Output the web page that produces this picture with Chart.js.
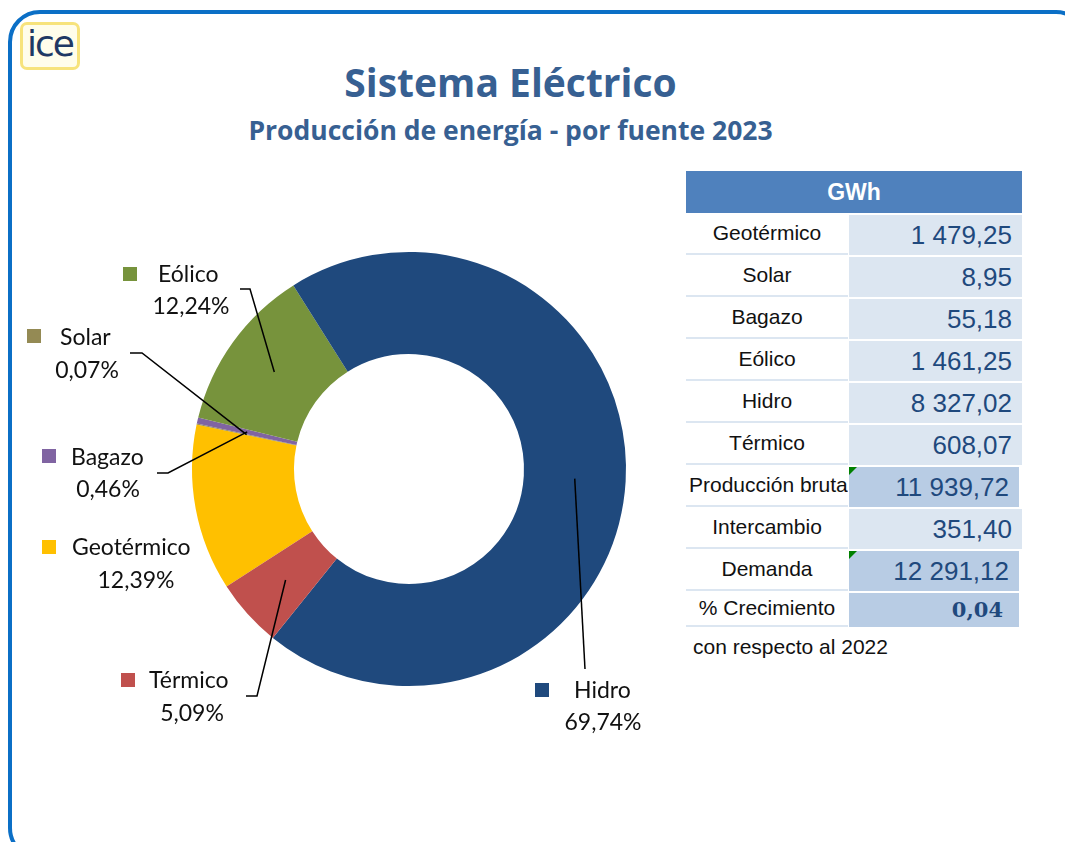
<!DOCTYPE html>
<html lang="es">
<head>
<meta charset="utf-8">
<title>Sistema Eléctrico</title>
<script src="https://cdn.jsdelivr.net/npm/chart.js@4/dist/chart.umd.min.js"></script>
<style>
  body { margin: 0; width: 1065px; height: 842px; overflow: hidden; background: #fff; position: relative; font-family: Lato, sans-serif; }
  #frame { position: absolute; left: 8px; top: 10px; width: 1080px; height: 850px; border: 4px solid #0B6FC6; border-radius: 32px; box-sizing: border-box; }
  #logo { position: absolute; left: 20px; top: 22px; width: 60px; height: 48px; box-sizing: border-box;
          background: #FFFDEB; border: 3px solid #F7E37C; border-radius: 7px;
          font: 36px/38px "DejaVu Sans", sans-serif; color: #1F3864; text-align: center; letter-spacing: -2px; }
  #title { position: absolute; left: 0; width: 1021px; top: 55px; text-align: center; font: bold 39px "Open Sans", sans-serif; color: #376092; }
  #subtitle { position: absolute; left: 0; width: 1021px; top: 112px; text-align: center; font: bold 26.5px "Open Sans", sans-serif; color: #376092; }
  #chart { position: absolute; left: 0; top: 0; }
  .cell { position: absolute; box-sizing: border-box; white-space: nowrap; overflow: hidden; }
  .hdr { background: #4F81BD; color: #fff; font: bold 23px "Liberation Sans", sans-serif; text-align: center; }
  .lbl { background: #fff; border-bottom: 2px solid #DCE6F1; color: #111; font: 21px "Liberation Sans", sans-serif; text-align: center; }
  .val { background: #DCE6F1; color: #1F497D; font: 26px "Liberation Sans", sans-serif; text-align: right; padding-right: 10px; }
  .val.hi { background: #B8CCE4; }
  .val.bold { font: bold 21px "DejaVu Serif", serif; padding-right: 16px; }
  .flag { position: absolute; left: 0; top: 0; width: 0; height: 0; border-top: 8px solid #008000; border-right: 8px solid transparent; }
  #note { position: absolute; left: 693px; top: 635px; font: 21px "Liberation Sans", sans-serif; color: #111; }
</style>
</head>
<body>
<div id="frame"></div>
<div id="logo">ice</div>
<div id="title">Sistema Eléctrico</div>
<div id="subtitle">Producción de energía - por fuente 2023</div>
<canvas id="chart" width="680" height="842"></canvas>
<div id="table"></div>
<div id="note">con respecto al 2022</div>

<script>
'use strict';

// ── Data ─────────────────────────────────────────────────────────────────────

const sources = ['Geotérmico', 'Solar', 'Bagazo', 'Eólico', 'Hidro', 'Térmico'];
const gwh     = [1479.25, 8.95, 55.18, 1461.25, 8327.02, 608.07];
const shares  = ['12,39%', '0,07%', '0,46%', '12,24%', '69,74%', '5,09%'];
const colors  = ['#FFC000', '#948A54', '#8064A2', '#77933C', '#1F497D', '#C0504D'];

const totalLabels = ['Producción bruta', 'Intercambio', 'Demanda', '% Crecimiento'];
const totalValues = [11939.72, 351.40, 12291.12, 0.04];

// label blocks, offsets from the doughnut centre
const labelSpots = [
  { sq: [-367,   71], name: [-337,   79], pct: [-273, 112], leader: null },
  { sq: [-382, -140], name: [-349, -131], pct: [-322, -98], leader: [[-279, -116], [-267, -116]] },
  { sq: [-367,  -20], name: [-338,  -11], pct: [-301,  21], leader: [[-252,    4], [-241,    4]] },
  { sq: [-286, -202], name: [-251, -194], pct: [-218, -162], leader: [[-169, -180], [-159, -180]] },
  { sq: [ 126,  214], name: [ 165,  222], pct: [ 194, 254], leader: [[ 176,  200]] },
  { sq: [-288,  204], name: [-260,  212], pct: [-217, 245], leader: [[-163,  227], [-152,  227]] }
];

// ── Helpers ──────────────────────────────────────────────────────────────────

const fmt = n => {
  const [i, d] = n.toFixed(2).split('.');
  return i.replace(/\B(?=(\d{3})+(?!\d))/g, ' ') + ',' + d;
};

// ── Doughnut labels ──────────────────────────────────────────────────────────

const calloutPlugin = {
  id: 'callouts',
  afterDraw(chart) {
    const ctx = chart.ctx;
    const arcs = chart.getDatasetMeta(0).data;
    ctx.save();
    arcs.forEach((arc, i) => {
      const spot = labelSpots[i];
      const cx = arc.x, cy = arc.y;
      if (spot.leader) {
        const tip = arc.tooltipPosition();
        ctx.beginPath();
        ctx.moveTo(cx + spot.leader[0][0], cy + spot.leader[0][1]);
        spot.leader.slice(1).forEach(p => ctx.lineTo(cx + p[0], cy + p[1]));
        ctx.lineTo(tip.x, tip.y);
        ctx.strokeStyle = '#000';
        ctx.lineWidth = 1.5;
        ctx.stroke();
      }
      ctx.fillStyle = colors[i];
      ctx.fillRect(cx + spot.sq[0], cy + spot.sq[1], 14, 14);
      ctx.fillStyle = '#111';
      ctx.font = '23px Lato, sans-serif';
      ctx.textBaseline = 'middle';
      ctx.textAlign = 'left';
      ctx.fillText(sources[i], cx + spot.name[0], cy + spot.name[1]);
      ctx.textAlign = 'center';
      ctx.fillText(shares[i], cx + spot.pct[0], cy + spot.pct[1]);
    });
    ctx.restore();
  }
};

new Chart(document.getElementById('chart'), {
  type: 'doughnut',
  data: {
    labels: sources,
    datasets: [{
      data: gwh,
      backgroundColor: colors,
      borderWidth: 0
    }]
  },
  options: {
    responsive: false,
    animation: false,
    rotation: 237.2,
    cutout: '53%',
    layout: { padding: { left: 192, right: 54, top: 252, bottom: 156 } },
    plugins: { legend: { display: false }, tooltip: { enabled: false } }
  },
  plugins: [calloutPlugin]
});

// ── GWh table ────────────────────────────────────────────────────────────────

function addCell(cls, x, y, w, h, text) {
  const el = document.createElement('div');
  el.className = 'cell ' + cls;
  Object.assign(el.style, { left: x + 'px', top: y + 'px', width: w + 'px', height: h + 'px', lineHeight: h + 'px' });
  el.textContent = text;
  document.getElementById('table').appendChild(el);
  return el;
}

addCell('hdr', 686, 171, 336, 42, 'GWh');

const rowLabels = sources.concat(totalLabels);
const rowValues = gwh.concat(totalValues);
rowLabels.forEach((label, i) => {
  const top  = 213 + i * 42;
  const last = i === rowLabels.length - 1;
  const h    = last ? 36 : 42;
  const lbl  = addCell('lbl', 686, top, 162, h, label);
  lbl.style.lineHeight = (h - 2) + 'px';
  if (label === 'Producción bruta') { lbl.style.textAlign = 'left'; lbl.style.paddingLeft = '3px'; }

  const hi  = i >= sources.length && label !== 'Intercambio';
  const val = addCell('val' + (hi ? ' hi' : '') + (last ? ' bold' : ''), 849, top + 2, hi ? 170 : 173, h - 2, fmt(rowValues[i]));
  val.style.lineHeight = (h - 2) + 'px';
  if (label === 'Producción bruta' || label === 'Demanda') {
    const flag = document.createElement('div');
    flag.className = 'flag';
    val.appendChild(flag);
  }
});
</script>
</body>
</html>
